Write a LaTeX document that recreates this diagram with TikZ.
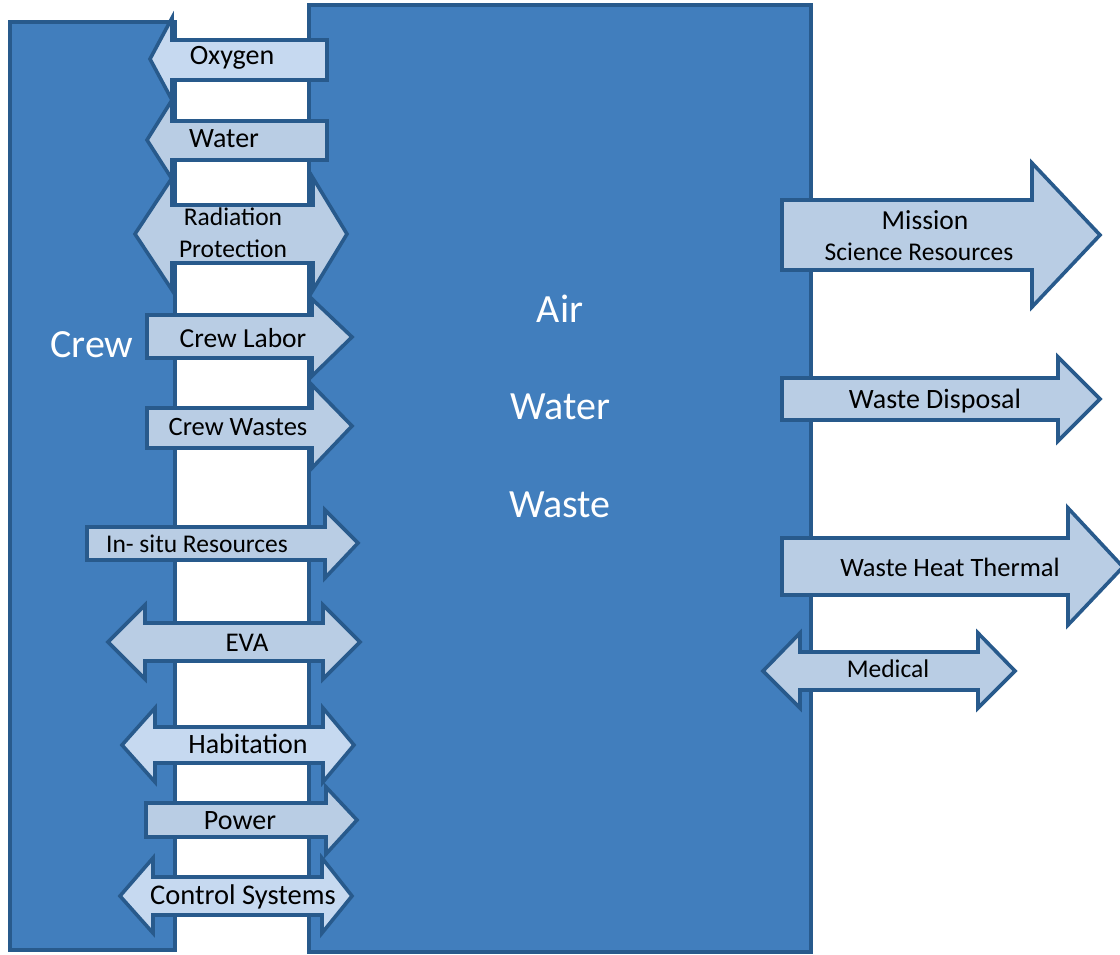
\documentclass[tikz,border=0pt]{standalone}
\usepackage{fontspec}
\setmainfont{Carlito}
\definecolor{boxfill}{RGB}{65,126,189}
\definecolor{edge}{RGB}{40,90,140}
\definecolor{arrfill}{RGB}{185,205,228}
\definecolor{arrlight}{RGB}{198,217,240}
\tikzset{
  block/.style={draw=edge,line width=4pt,fill=boxfill},
  flow/.style={draw=edge,line width=3.6pt,fill=arrfill,line join=miter},
  flowlight/.style={flow,fill=arrlight},
  lbl/.style={inner sep=0pt,text=black,font=\fontsize{27}{30}\selectfont},
  biglbl/.style={inner sep=0pt,text=white,font=\fontsize{40}{44}\selectfont}
}
\begin{document}
\begin{tikzpicture}[x=1pt,y=-1pt]
\useasboundingbox (0,0) rectangle (1120,954);
\clip (0,0) rectangle (1120,954);
% blocks
\draw[block] (10,22) rectangle (175,950);
\draw[block] (309,5) rectangle (811,952);
\node[biglbl] (crew) at (92,345) {Crew};
\node[biglbl] (air) at (560,309) {Air};
\node[biglbl] (water) at (560,407) {Water};
\node[biglbl] (waste) at (560,505) {Waste};
% Oxygen (left)
\draw[flowlight] (327,40) -- (172,40) -- (172,18) -- (150,59) -- (172,100) -- (172,80) -- (327,80) -- cycle;
\node[lbl,font=\fontsize{28}{30}\selectfont] (oxy) at (232,58) {Oxygen};
% Water (left)
\draw[flow] (327,121) -- (172,121) -- (172,100) -- (147,140) -- (172,179) -- (172,160) -- (327,160) -- cycle;
\node[lbl,font=\fontsize{28}{30}\selectfont] (wat) at (224,139) {Water};
% Radiation Protection (double)
\draw[flow] (172,205) -- (313,205) -- (313,178) -- (347,234) -- (313,290) -- (313,263) -- (172,263) -- (172,290) -- (135,234) -- (172,178) -- cycle;
\node[lbl,font=\fontsize{25.5}{32}\selectfont,align=center] (rad) at (233,233) {Radiation\\Protection};
% Crew Labor
\draw[flow] (147,315) -- (312,315) -- (312,299) -- (352,337) -- (312,376) -- (312,358) -- (147,358) -- cycle;
\node[lbl,font=\fontsize{27.5}{30}\selectfont] (labor) at (243,338) {Crew Labor};
% Crew Wastes
\draw[flow] (147,408) -- (312,408) -- (312,385) -- (352,426) -- (312,468) -- (312,448) -- (147,448) -- cycle;
\node[lbl,font=\fontsize{26.5}{30}\selectfont] (cwaste) at (238,427) {Crew Wastes};
% In-situ Resources
\draw[flow] (87,527) -- (325,527) -- (325,510) -- (358,543) -- (325,578) -- (325,560) -- (87,560) -- cycle;
\node[lbl,font=\fontsize{25.5}{30}\selectfont] (insitu) at (197,544) {In- situ Resources};
% EVA (double)
\draw[flow] (145,623) -- (323,623) -- (323,605) -- (360,642) -- (323,679) -- (323,661) -- (145,661) -- (145,679) -- (108,642) -- (145,605) -- cycle;
\node[lbl] (eva) at (247,643) {EVA};
% Habitation (double)
\draw[flowlight] (155,727) -- (323,727) -- (323,708) -- (354,745) -- (323,782) -- (323,763) -- (155,763) -- (155,782) -- (122,745) -- (155,708) -- cycle;
\node[lbl,font=\fontsize{28}{30}\selectfont] (hab) at (248,744) {Habitation};
% Power
\draw[flow] (146,803) -- (326,803) -- (326,787) -- (357,820) -- (326,854) -- (326,837) -- (146,837) -- cycle;
\node[lbl,font=\fontsize{28}{30}\selectfont] (power) at (240,821) {Power};
% Control Systems (double)
\draw[flowlight] (153,877) -- (322,877) -- (322,858) -- (352,896) -- (322,933) -- (322,915) -- (153,915) -- (153,933) -- (120,896) -- (153,858) -- cycle;
\node[lbl,font=\fontsize{28.5}{30}\selectfont] (ctrl) at (243,897) {Control Systems};
% Mission Science Resources
\draw[flow] (782,200) -- (1032,200) -- (1032,163) -- (1100,235) -- (1032,307) -- (1032,270) -- (782,270) -- cycle;
\node[lbl,font=\fontsize{27.5}{30}\selectfont] (mission) at (925,220) {Mission};
\node[lbl,font=\fontsize{25.5}{30}\selectfont] (science) at (919,252) {Science Resources};
% Waste Disposal
\draw[flow] (782,378) -- (1058,378) -- (1058,357) -- (1100,399) -- (1058,441) -- (1058,420) -- (782,420) -- cycle;
\node[lbl,font=\fontsize{28}{30}\selectfont] (disp) at (935,401) {Waste Disposal};
% Waste Heat Thermal
\draw[flow] (782,538) -- (1068,538) -- (1068,508) -- (1123,567) -- (1068,625) -- (1068,595) -- (782,595) -- cycle;
\node[lbl,font=\fontsize{26.5}{30}\selectfont] (heat) at (950,567) {Waste Heat Thermal};
% Medical (double)
\draw[flow] (800,652) -- (978,652) -- (978,633) -- (1015,671) -- (978,708) -- (978,690) -- (800,690) -- (800,708) -- (763,671) -- (800,633) -- cycle;
\node[lbl,font=\fontsize{25.5}{30}\selectfont] (med) at (888,669) {Medical};
\end{tikzpicture}
\end{document}
